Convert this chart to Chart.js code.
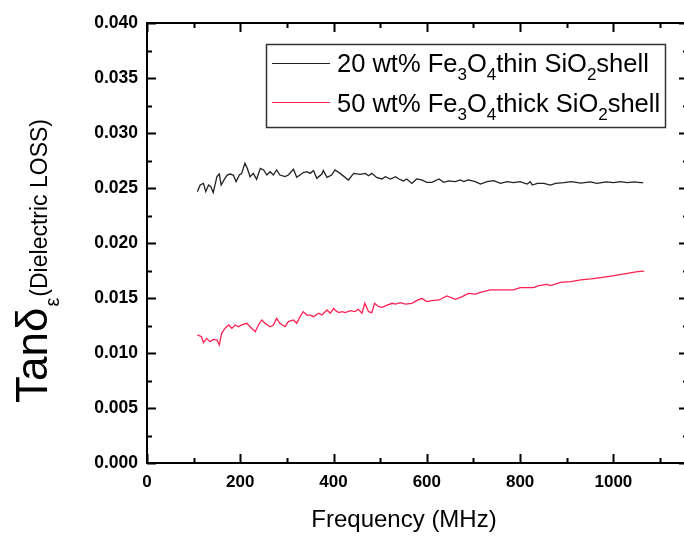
<!DOCTYPE html>
<html>
<head>
<meta charset="utf-8">
<script src="https://cdn.jsdelivr.net/npm/chart.js@4"></script>
<style>
  html, body { margin: 0; padding: 0; background: #fff; overflow: hidden; }
  #wrap { width: 700px; height: 536px; }
</style>
</head>
<body>
<div id="wrap"><canvas id="chart" width="700" height="536"></canvas></div>
<script>
const seriesLabels = ['20 wt% Fe_3O_4thin SiO_2shell', '50 wt% Fe_3O_4thick SiO_2shell'];
const seriesColors = ['#222222', '#ff2050'];

const thinFreq = [108,114,121,126,132,137,142,150,155,159,167,172,178,185,191,198,203,210,215,221,228,235,243,250,257,264,271,278,285,296,303,314,321,328,335,343,350,357,364,375,378,386,396,
  403,414,432,443,457,468,475,482,493,504,511,522,533,540,550,557,568,578,589,600,611,626,636,647,661,672,679,689,704,
  715,729,743,758,772,786,800,815,822,826,837,851,865,876,894,910,930,950,965,985,1001,1015,1030,1045,1058,1064];
const thinLoss = [0.02467,0.02527,0.02542,0.02467,0.02527,0.02512,0.02458,0.02603,0.02627,0.02527,0.02588,0.02618,0.02627,0.02618,0.02558,0.02618,0.02633,0.02724,0.02679,0.02603,0.02633,0.02579,0.02679,0.02664,0.02618,0.02648,0.02618,0.02664,0.02618,0.02603,0.02618,0.02670,0.02597,0.02618,0.02640,0.02648,0.02633,0.02658,0.02588,0.02627,0.02658,0.02597,0.02618,
  0.02664,0.02633,0.02573,0.02633,0.02624,0.02633,0.02612,0.02633,0.02594,0.02582,0.02603,0.02582,0.02603,0.02582,0.02564,0.02582,0.02542,0.02582,0.02573,0.02552,0.02552,0.02582,0.02552,0.02564,0.02558,0.02573,0.02558,0.02573,0.02558,
  0.02536,0.02558,0.02567,0.02542,0.02558,0.02549,0.02558,0.02536,0.02558,0.02527,0.02542,0.02542,0.02527,0.02542,0.02549,0.02558,0.02545,0.02555,0.02542,0.02555,0.02549,0.02558,0.02549,0.02555,0.02549,0.02549];

const thickFreq = [108,117,121,128,135,142,150,155,160,167,175,182,189,196,203,214,221,232,239,246,253,264,271,278,285,296,303,314,321,328,335,343,350,357,368,375,386,393,400,
  403,411,418,425,436,446,453,461,467,475,482,488,497,504,515,526,533,543,554,568,578,589,600,611,626,643,661,676,689,704,
  715,736,758,786,800,829,840,858,865,887,909,930,952,973,1001,1030,1052,1066];
const thickLoss = [0.01164,0.01148,0.01094,0.01133,0.01103,0.01124,0.01118,0.01073,0.01179,0.01224,0.01255,0.01224,0.01255,0.01239,0.01255,0.01270,0.01239,0.01194,0.01255,0.01300,0.01270,0.01239,0.01255,0.01315,0.01270,0.01239,0.01285,0.01300,0.01270,0.01330,0.01376,0.01345,0.01345,0.01330,0.01361,0.01345,0.01391,0.01361,0.01406,
  0.01391,0.01367,0.01376,0.01367,0.01385,0.01376,0.01397,0.01361,0.01452,0.01376,0.01367,0.01452,0.01421,0.01415,0.01436,0.01452,0.01445,0.01458,0.01445,0.01452,0.01476,0.01497,0.01467,0.01476,0.01482,0.01518,0.01488,0.01512,0.01542,0.01536,
  0.01552,0.01573,0.01573,0.01573,0.01594,0.01594,0.01612,0.01624,0.01612,0.01642,0.01648,0.01664,0.01673,0.01685,0.01703,0.01724,0.01739,0.01745];

const xTicks = [0, 200, 400, 600, 800, 1000];
const yTicks = [0, 0.005, 0.01, 0.015, 0.02, 0.025, 0.03, 0.035, 0.04];

const FONT = '"Liberation Sans", Arial, sans-serif';

function pts(xs, ys) { return xs.map((x, i) => ({ x: x, y: ys[i] })); }

// draws text like "Fe_3O_4" with one-char subscripts, returns width
function drawRich(ctx, str, x, y, size, subSize) {
  let cx = x;
  for (let i = 0; i < str.length; i++) {
    if (str[i] === '_') {
      i++;
      ctx.font = subSize + 'px ' + FONT;
      ctx.fillText(str[i], cx, y + 8);
      cx += ctx.measureText(str[i]).width;
    } else {
      ctx.font = size + 'px ' + FONT;
      ctx.fillText(str[i], cx, y);
      cx += ctx.measureText(str[i]).width;
    }
  }
  return cx - x;
}

const framePlugin = {
  id: 'frame',
  afterDraw(chart) {
    const ctx = chart.ctx;
    const a = chart.chartArea;
    const xs = chart.scales.x, ys = chart.scales.y;
    ctx.save();
    ctx.strokeStyle = '#000';
    ctx.lineWidth = 2;
    ctx.strokeRect(a.left, a.top, a.right - a.left, a.bottom - a.top);

    ctx.beginPath();
    for (let v = 0; v <= xs.max; v += 100) {
      const px = Math.round(xs.getPixelForValue(v)) + 0.5;
      const len = v % 200 === 0 ? 9 : 5;
      ctx.moveTo(px, a.bottom); ctx.lineTo(px, a.bottom - len);
      ctx.moveTo(px, a.top); ctx.lineTo(px, a.top + len);
    }
    for (let k = 0; k <= 16; k++) {
      const py = Math.round(ys.getPixelForValue(k * 0.0025)) + 0.5;
      const len = k % 2 === 0 ? 9 : 5;
      ctx.moveTo(a.left, py); ctx.lineTo(a.left + len, py);
      ctx.moveTo(a.right, py); ctx.lineTo(a.right - len, py);
    }
    ctx.stroke();

    // axis titles
    ctx.fillStyle = '#000';
    ctx.textBaseline = 'alphabetic';
    ctx.textAlign = 'center';
    ctx.font = '24px ' + FONT;
    ctx.fillText('Frequency (MHz)', 404, 527);

    ctx.textAlign = 'left';
    ctx.translate(47, 403);
    ctx.rotate(-Math.PI / 2);
    ctx.font = '44px ' + FONT;
    ctx.fillText('Tanδ', 0, 0);
    let w = ctx.measureText('Tanδ').width;
    ctx.font = '20px ' + FONT;
    ctx.fillText('ε', w + 1, 12);
    w += ctx.measureText('ε').width + 2;
    ctx.font = '23px ' + FONT;
    ctx.fillText('(Dielectric LOSS)', w, 0);
    ctx.restore();

    // legend
    ctx.save();
    ctx.strokeStyle = '#333';
    ctx.lineWidth = 1.5;
    ctx.strokeRect(266.5, 44.5, 399, 83);
    const rows = [63, 102];
    const base = [72, 112];
    chart.data.datasets.forEach((ds, i) => {
      ctx.strokeStyle = ds.borderColor;
      ctx.lineWidth = 1.2;
      ctx.beginPath();
      ctx.moveTo(272, rows[i] + 0.5);
      ctx.lineTo(330, rows[i] + 0.5);
      ctx.stroke();
      ctx.fillStyle = '#000';
      ctx.textBaseline = 'alphabetic';
      drawRich(ctx, ds.label, 337, base[i], 25.5, 17);
    });
    ctx.restore();
  }
};

new Chart(document.getElementById('chart'), {
  type: 'scatter',
  data: {
    datasets: [{
      label: seriesLabels[0],
      data: pts(thinFreq, thinLoss),
      showLine: true,
      borderColor: seriesColors[0],
      borderWidth: 1.3,
      pointRadius: 0,
      tension: 0
    }, {
      label: seriesLabels[1],
      data: pts(thickFreq, thickLoss),
      showLine: true,
      borderColor: seriesColors[1],
      borderWidth: 1.3,
      pointRadius: 0,
      tension: 0
    }]
  },
  options: {
    responsive: false,
    animation: false,
    layout: { padding: { top: 23, right: 12, left: 0, bottom: 0 } },
    plugins: { legend: { display: false }, tooltip: { enabled: false } },
    scales: {
      x: {
        type: 'linear',
        min: 0,
        max: 1160,
        border: { display: false },
        grid: { display: false, drawTicks: false },
        afterBuildTicks: s => { s.ticks = xTicks.map(v => ({ value: v })); },
        afterFit: s => { s.height = 73; },
        ticks: {
          padding: 9,
          color: '#000',
          font: { family: FONT, size: 17, weight: 'bold' },
          callback: v => String(v)
        }
      },
      y: {
        min: 0,
        max: 0.04,
        border: { display: false },
        grid: { display: false, drawTicks: false },
        afterBuildTicks: s => { s.ticks = yTicks.map(v => ({ value: v })); },
        afterFit: s => { s.width = 147; },
        ticks: {
          padding: 9,
          color: '#000',
          font: { family: FONT, size: 17.5, weight: 'bold' },
          callback: v => v.toFixed(3)
        }
      }
    }
  },
  plugins: [framePlugin]
});
</script>
</body>
</html>
